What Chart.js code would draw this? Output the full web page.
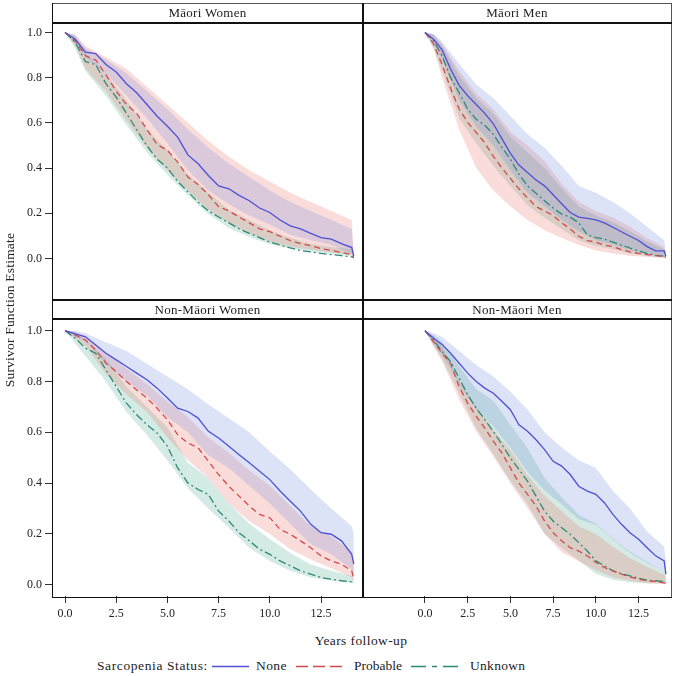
<!DOCTYPE html>
<html><head><meta charset="utf-8">
<script src="https://cdn.jsdelivr.net/npm/chart.js@4.4.1/dist/chart.umd.min.js"></script>
<style>
html,body{margin:0;padding:0;background:#fff;}
body{width:676px;height:676px;position:relative;overflow:hidden;font-family:'Liberation Serif',serif;color:#222;}
canvas{position:absolute;}
.ln{position:absolute;background:#111;z-index:3;}
.hdr{position:absolute;text-align:center;font-size:13px;line-height:19px;height:19px;z-index:3;letter-spacing:0.3px;}
.txt{position:absolute;font-size:13.5px;line-height:16px;white-space:nowrap;z-index:3;}
</style></head><body>

<canvas id="c1" width="363" height="277" style="left:0;top:23px"></canvas>
<canvas id="c2" width="308" height="277" style="left:363px;top:23px"></canvas>
<canvas id="c3" width="363" height="308" style="left:0;top:319px"></canvas>
<canvas id="c4" width="308" height="308" style="left:363px;top:319px"></canvas>

<!-- frame -->
<div class="ln" style="left:52px;top:3px;width:620px;height:1px;background:#555"></div>
<div class="ln" style="left:52px;top:3px;width:1px;height:595px;"></div>
<div class="ln" style="left:671px;top:3px;width:1px;height:595px;background:#555"></div>
<div class="ln" style="left:52px;top:597px;width:620px;height:1px;"></div>
<div class="ln" style="left:52px;top:22px;width:620px;height:2px;"></div>
<div class="ln" style="left:52px;top:299px;width:620px;height:2px;"></div>
<div class="ln" style="left:52px;top:318px;width:620px;height:2px;"></div>
<div class="ln" style="left:362px;top:3px;width:2px;height:595px;"></div>

<div class="hdr" id="h1" style="left:52px;top:3px;width:311px;"></div>
<div class="hdr" id="h2" style="left:363px;top:3px;width:308px;"></div>
<div class="hdr" id="h3" style="left:52px;top:300px;width:311px;"></div>
<div class="hdr" id="h4" style="left:363px;top:300px;width:308px;"></div>

<div class="txt" id="ytitle" style="left:-140px;top:302px;width:300px;text-align:center;transform:rotate(-90deg);letter-spacing:0.2px;"></div>
<div class="txt" id="xtitle" style="left:261px;top:633px;width:200px;text-align:center;letter-spacing:0.4px;"></div>

<div class="txt" id="legTitle" style="left:97px;top:658px;letter-spacing:0.6px;"></div>
<div class="txt" id="leg0" style="left:256px;top:658px;letter-spacing:0.4px;"></div>
<div class="txt" id="leg1" style="left:354px;top:658px;"></div>
<div class="txt" id="leg2" style="left:470px;top:658px;letter-spacing:0.3px;"></div>
<svg style="position:absolute;left:0;top:658px;" width="676" height="16">
  <line id="lg0" x1="212" y1="8.5" x2="249" y2="8.5" stroke-width="1.3"/>
  <line id="lg1" x1="296" y1="8.5" x2="343" y2="8.5" stroke-width="1.3" stroke-dasharray="12,5"/>
  <line id="lg2" x1="411" y1="8.5" x2="462" y2="8.5" stroke-width="1.3" stroke-dasharray="15,6,5,6"/>
</svg>

<script>
// ---------- data ----------
const years = [0,0.5,1,1.5,2,2.5,3,3.5,4,4.5,5,5.5,6,6.5,7,7.5,8,8.5,9,9.5,10,10.5,11,11.5,12,12.5,13,13.5,14,14.1];
const bandYears = [0,0.5,1,2,3,4,5,6,7,8,9,10,11,12,13,14,14.1];
const xTicks = [0,2.5,5,7.5,10,12.5];
const yTicks = [0,0.2,0.4,0.6,0.8,1.0];
const groups = ['None','Probable','Unknown'];
const panelTitles = ['Māori Women','Māori Men','Non-Māori Women','Non-Māori Men'];
const xTitle = 'Years follow-up';
const yTitle = 'Survivor Function Estimate';
const legendTitle = 'Sarcopenia Status:';

// Māori Women
const mwNone = [1,0.97,0.913,0.907,0.858,0.825,0.773,0.733,0.681,0.629,0.585,0.537,0.458,0.419,0.367,0.321,0.308,0.279,0.255,0.223,0.203,0.170,0.144,0.131,0.111,0.092,0.085,0.065,0.048,0.01];
const mwProb = [1,0.963,0.897,0.878,0.812,0.74,0.681,0.642,0.57,0.504,0.478,0.426,0.36,0.327,0.282,0.229,0.21,0.183,0.157,0.131,0.118,0.098,0.079,0.065,0.056,0.043,0.035,0.026,0.017,0.005];
const mwUnk  = [1,0.956,0.871,0.858,0.773,0.714,0.642,0.57,0.498,0.439,0.40,0.341,0.295,0.249,0.21,0.183,0.157,0.131,0.111,0.092,0.072,0.059,0.046,0.035,0.029,0.022,0.017,0.012,0.007,0.003];
const mwNoneHi = [1,0.99,0.93,0.88,0.82,0.74,0.66,0.57,0.49,0.42,0.36,0.30,0.25,0.21,0.17,0.13,0.01];
const mwNoneLo = [1,0.95,0.89,0.82,0.72,0.62,0.51,0.39,0.30,0.24,0.19,0.15,0.105,0.08,0.06,0.02,0.0];
const mwProbHi = [1,0.99,0.94,0.89,0.84,0.76,0.68,0.60,0.52,0.45,0.39,0.34,0.29,0.25,0.21,0.17,0.01];
const mwProbLo = [1,0.94,0.84,0.74,0.61,0.49,0.39,0.30,0.215,0.155,0.11,0.075,0.052,0.038,0.026,0.016,0.0];
const mwUnkHi  = [1,0.98,0.91,0.82,0.70,0.57,0.48,0.37,0.29,0.215,0.17,0.125,0.09,0.065,0.05,0.04,0.01];
const mwUnkLo  = [1,0.93,0.83,0.72,0.59,0.47,0.37,0.28,0.195,0.135,0.095,0.063,0.044,0.031,0.02,0.01,0.0];

// Māori Men
const mmNone = [1,0.97,0.923,0.838,0.766,0.72,0.681,0.642,0.596,0.53,0.465,0.413,0.38,0.347,0.321,0.282,0.242,0.203,0.183,0.177,0.17,0.157,0.138,0.118,0.098,0.079,0.052,0.033,0.033,0.01];
const mmProb = [1,0.95,0.858,0.753,0.661,0.602,0.557,0.511,0.452,0.40,0.354,0.308,0.268,0.229,0.21,0.19,0.157,0.131,0.098,0.079,0.072,0.059,0.052,0.039,0.029,0.022,0.017,0.012,0.009,0.005];
const mmUnk  = [1,0.963,0.897,0.80,0.733,0.661,0.616,0.589,0.55,0.491,0.439,0.373,0.321,0.288,0.255,0.223,0.196,0.183,0.157,0.105,0.092,0.085,0.072,0.059,0.046,0.033,0.022,0.013,0.01,0.005];
const mmNoneHi = [1,0.995,0.96,0.86,0.77,0.71,0.63,0.55,0.49,0.41,0.32,0.29,0.25,0.20,0.14,0.08,0.03];
const mmNoneLo = [1,0.955,0.88,0.70,0.585,0.50,0.39,0.29,0.23,0.17,0.12,0.08,0.06,0.035,0.018,0.009,0.004];
const mmProbHi = [1,0.99,0.95,0.83,0.73,0.66,0.56,0.50,0.43,0.33,0.25,0.21,0.18,0.14,0.09,0.05,0.02];
const mmProbLo = [1,0.93,0.80,0.57,0.40,0.30,0.23,0.17,0.125,0.09,0.059,0.035,0.022,0.012,0.006,0.002,0.0];
const mmUnkHi  = [1,0.99,0.94,0.81,0.71,0.64,0.54,0.47,0.40,0.31,0.23,0.19,0.16,0.12,0.075,0.04,0.015];
const mmUnkLo  = [1,0.93,0.83,0.62,0.51,0.41,0.32,0.235,0.18,0.13,0.08,0.055,0.04,0.02,0.01,0.004,0.002];

// Non-Māori Women
const nwNone = [1,0.987,0.976,0.944,0.911,0.885,0.859,0.833,0.807,0.774,0.735,0.695,0.682,0.656,0.604,0.578,0.545,0.512,0.48,0.447,0.414,0.369,0.329,0.29,0.238,0.205,0.199,0.173,0.12,0.081];
const nwProb = [1,0.983,0.963,0.924,0.872,0.839,0.80,0.767,0.735,0.695,0.65,0.591,0.558,0.539,0.486,0.434,0.388,0.349,0.31,0.277,0.264,0.218,0.199,0.173,0.146,0.114,0.094,0.081,0.055,0.022];
const nwUnk  = [1,0.97,0.931,0.911,0.846,0.78,0.715,0.669,0.63,0.597,0.545,0.46,0.401,0.375,0.356,0.29,0.251,0.205,0.173,0.14,0.12,0.094,0.075,0.055,0.042,0.029,0.022,0.016,0.012,0.008];
const nwNoneHi = [1,1,0.99,0.955,0.92,0.87,0.82,0.77,0.71,0.655,0.6,0.525,0.455,0.375,0.3,0.23,0.2];
const nwNoneLo = [1,0.975,0.96,0.87,0.80,0.745,0.66,0.6,0.51,0.46,0.39,0.32,0.24,0.16,0.12,0.06,0.03];
const nwProbHi = [1,0.995,0.98,0.91,0.85,0.79,0.72,0.66,0.58,0.52,0.45,0.39,0.31,0.23,0.19,0.13,0.08];
const nwProbLo = [1,0.97,0.94,0.83,0.75,0.68,0.58,0.49,0.42,0.32,0.25,0.2,0.14,0.1,0.065,0.03,0.01];
const nwUnkHi  = [1,0.995,0.96,0.89,0.78,0.70,0.62,0.48,0.42,0.32,0.24,0.18,0.125,0.08,0.055,0.035,0.02];
const nwUnkLo  = [1,0.95,0.9,0.8,0.68,0.59,0.49,0.38,0.3,0.225,0.146,0.094,0.055,0.03,0.016,0.008,0.005];

// Non-Māori Men
const nmNone = [1,0.97,0.946,0.911,0.872,0.833,0.80,0.774,0.754,0.722,0.689,0.63,0.604,0.571,0.532,0.486,0.467,0.434,0.388,0.369,0.356,0.323,0.277,0.238,0.205,0.179,0.146,0.114,0.094,0.042];
const nmProb = [1,0.957,0.911,0.872,0.78,0.715,0.663,0.617,0.565,0.519,0.46,0.401,0.356,0.31,0.251,0.205,0.173,0.146,0.133,0.114,0.088,0.068,0.055,0.042,0.031,0.022,0.016,0.013,0.008,0.005];
const nmUnk  = [1,0.963,0.918,0.878,0.813,0.748,0.695,0.65,0.604,0.552,0.499,0.454,0.408,0.349,0.29,0.251,0.225,0.199,0.166,0.133,0.094,0.075,0.055,0.044,0.035,0.026,0.018,0.016,0.013,0.008];
const nmNoneHi = [1,0.99,0.975,0.92,0.865,0.82,0.76,0.69,0.6,0.54,0.49,0.46,0.37,0.3,0.21,0.15,0.09];
const nmNoneLo = [1,0.95,0.906,0.792,0.69,0.624,0.539,0.444,0.372,0.317,0.258,0.236,0.177,0.125,0.086,0.054,0.012];
const nmProbHi = [1,0.977,0.941,0.80,0.70,0.61,0.53,0.43,0.35,0.29,0.23,0.20,0.15,0.105,0.07,0.04,0.02];
const nmProbLo = [1,0.937,0.881,0.73,0.603,0.505,0.40,0.301,0.201,0.128,0.093,0.058,0.03,0.016,0.006,0.003,0.002];
const nmUnkHi  = [1,0.983,0.955,0.86,0.77,0.724,0.629,0.538,0.42,0.345,0.276,0.24,0.18,0.13,0.09,0.055,0.03];
const nmUnkLo  = [1,0.943,0.888,0.753,0.615,0.514,0.409,0.318,0.2,0.145,0.096,0.044,0.02,0.01,0.006,0.005,0.003];

// ---------- styles ----------
const lineColors = {None:'#4f4fd6', Probable:'#d24b4b', Unknown:'#2f8a74'};
const bandColors = {None:'rgba(102,128,214,0.22)', Probable:'rgba(232,100,90,0.22)', Unknown:'rgba(60,160,130,0.22)'};
const dashes = {None:[], Probable:[6,4], Unknown:[8,3,2,3]};
const FONT = "'Liberation Serif',serif";

function xy(xs, ys){ return xs.map((x,i)=>({x:x, y:ys[i]})); }

function makePanel(id, lines, bands, cfg){
  const ds = [];
  groups.forEach((g,i)=>{
    ds.push({label:g+' upper', data:xy(bandYears, bands[i][1]), borderColor:'rgba(0,0,0,0)', borderWidth:0,
      pointRadius:0, fill:'+1', backgroundColor:bandColors[g], order:2, tension:0});
    ds.push({label:g+' lower', data:xy(bandYears, bands[i][0]), borderColor:'rgba(0,0,0,0)', borderWidth:0,
      pointRadius:0, fill:false, order:2, tension:0});
  });
  groups.forEach((g,i)=>{
    ds.push({label:g, data:xy(years, lines[i]), borderColor:lineColors[g], borderWidth:1.3,
      borderDash:dashes[g], pointRadius:0, fill:false, order:0, tension:0});
  });
  new Chart(document.getElementById(id), {
    type:'line',
    data:{datasets:ds},
    options:{
      responsive:false, animation:false, devicePixelRatio:1,
      layout:{padding:0},
      plugins:{legend:{display:false}, tooltip:{enabled:false}},
      scales:{
        x:{type:'linear', min:cfg.xmin, max:cfg.xmax, display:cfg.showX,
          afterBuildTicks:s=>{ s.ticks = xTicks.map(v=>({value:v})); },
          afterFit:s=>{ s.height = 31; s.paddingLeft = 0; s.paddingRight = 0; },
          ticks:{callback:v=>Number(v).toFixed(1), color:'#222', font:{family:FONT, size:12}, padding:4, maxRotation:0, autoSkip:false},
          grid:{display:true, drawOnChartArea:false, drawTicks:true, tickLength:7, color:'#333', tickColor:'#333'},
          border:{display:false}},
        y:{type:'linear', min:cfg.ymin, max:cfg.ymax, display:cfg.showY,
          afterBuildTicks:s=>{ s.ticks = yTicks.map(v=>({value:v})); },
          afterFit:s=>{ s.width = 52; s.paddingTop = 0; s.paddingBottom = 0; },
          ticks:{callback:v=>Number(v).toFixed(1), color:'#222', font:{family:FONT, size:12}, padding:3, autoSkip:false},
          grid:{display:true, drawOnChartArea:false, drawTicks:true, tickLength:7, color:'#333', tickColor:'#333'},
          border:{display:false}}
      }
    }
  });
}

makePanel('c1', [mwNone, mwProb, mwUnk], [[mwNoneLo, mwNoneHi],[mwProbLo, mwProbHi],[mwUnkLo, mwUnkHi]],
  {xmin:-0.635, xmax:14.55, ymin:-0.047, ymax:1.042, showX:false, showY:true});
makePanel('c2', [mmNone, mmProb, mmUnk], [[mmNoneLo, mmNoneHi],[mmProbLo, mmProbHi],[mmUnkLo, mmUnkHi]],
  {xmin:-0.584, xmax:14.40, ymin:-0.047, ymax:1.042, showX:false, showY:false});
makePanel('c3', [nwNone, nwProb, nwUnk], [[nwNoneLo, nwNoneHi],[nwProbLo, nwProbHi],[nwUnkLo, nwUnkHi]],
  {xmin:-0.635, xmax:14.55, ymin:-0.044, ymax:1.046, showX:true, showY:true});
makePanel('c4', [nmNone, nmProb, nmUnk], [[nmNoneLo, nmNoneHi],[nmProbLo, nmProbHi],[nmUnkLo, nmUnkHi]],
  {xmin:-0.584, xmax:14.40, ymin:-0.044, ymax:1.046, showX:true, showY:false});

// text
['h1','h2','h3','h4'].forEach((h,i)=>{ document.getElementById(h).textContent = panelTitles[i]; });
document.getElementById('xtitle').textContent = xTitle;
document.getElementById('ytitle').textContent = yTitle;
document.getElementById('legTitle').textContent = legendTitle;
groups.forEach((g,i)=>{
  document.getElementById('leg'+i).textContent = g;
  document.getElementById('lg'+i).setAttribute('stroke', lineColors[g]);
});
</script>
</body></html>
